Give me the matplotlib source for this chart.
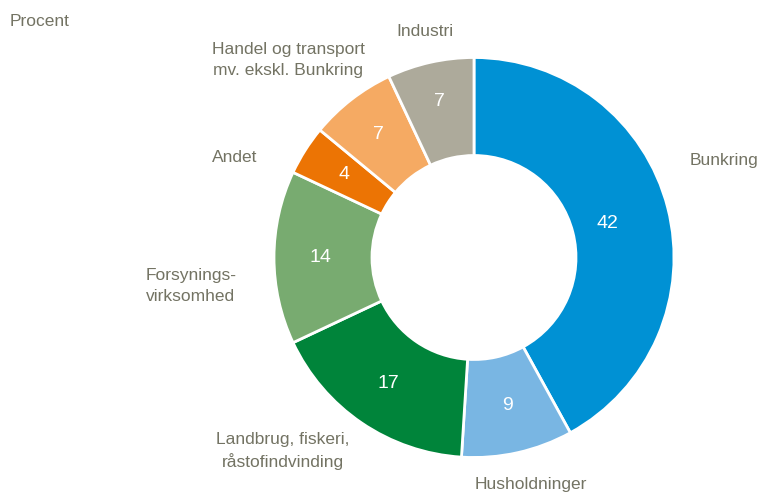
import matplotlib
matplotlib.use('Agg')
import matplotlib.pyplot as plt
import numpy as np

plt.rcParams['font.family'] = ['Liberation Sans Narrow', 'Liberation Sans', 'DejaVu Sans']

# data (percent), clockwise from top
categories = ['Bunkring', 'Husholdninger', 'Landbrug, fiskeri,\nråstofindvinding',
              'Forsynings-\nvirksomhed', 'Andet', 'Handel og transport\nmv. ekskl. Bunkring',
              'Industri']
values = [42, 9, 17, 14, 4, 7, 7]
colors = ['#0091D4', '#79B6E3', '#00843A', '#78AB70', '#EC7404', '#F5AA63', '#ADAA9B']

txt_col = '#737363'
H = 494  # figure height in px, used to flip label positions

fig = plt.figure(figsize=(7.6, 4.94), dpi=100)
ax = fig.add_axes([0, 0, 1, 1])

cx, cy, R = 474, H - 257.5, 200
wedges, _ = ax.pie(values, colors=colors, startangle=90, counterclock=False,
                   radius=R, center=(cx, cy), frame=True,
                   wedgeprops=dict(width=R * 0.49, edgecolor='white', linewidth=2))
ax.set_xlim(0, 760)
ax.set_ylim(0, H)
ax.set_aspect('equal')
ax.axis('off')

# value labels at mid-angle of each wedge
rfrac = [0.69, 0.76, 0.76, 0.77, 0.77, 0.78, 0.8]
for w, v, rf in zip(wedges, values, rfrac):
    ang = np.deg2rad((w.theta1 + w.theta2) / 2)
    x = cx + R * rf * np.cos(ang)
    y = cy + R * rf * np.sin(ang)
    ax.text(x, y, str(v), color='white', fontsize=14, ha='center', va='center')

# category labels (pixel positions from top-left)
label_pos = [(724, 160), (531, 484), (283, 451), (191, 286), (235, 157), (288, 60), (425, 32)]
for lab, (x, y) in zip(categories, label_pos):
    ax.text(x, H - y, lab, color=txt_col, fontsize=12.5, ha='center', va='center',
            linespacing=1.45)

ax.text(10, H - 22, 'Procent', color=txt_col, fontsize=12.5, ha='left', va='center')

fig.savefig('out.png', dpi=100)
